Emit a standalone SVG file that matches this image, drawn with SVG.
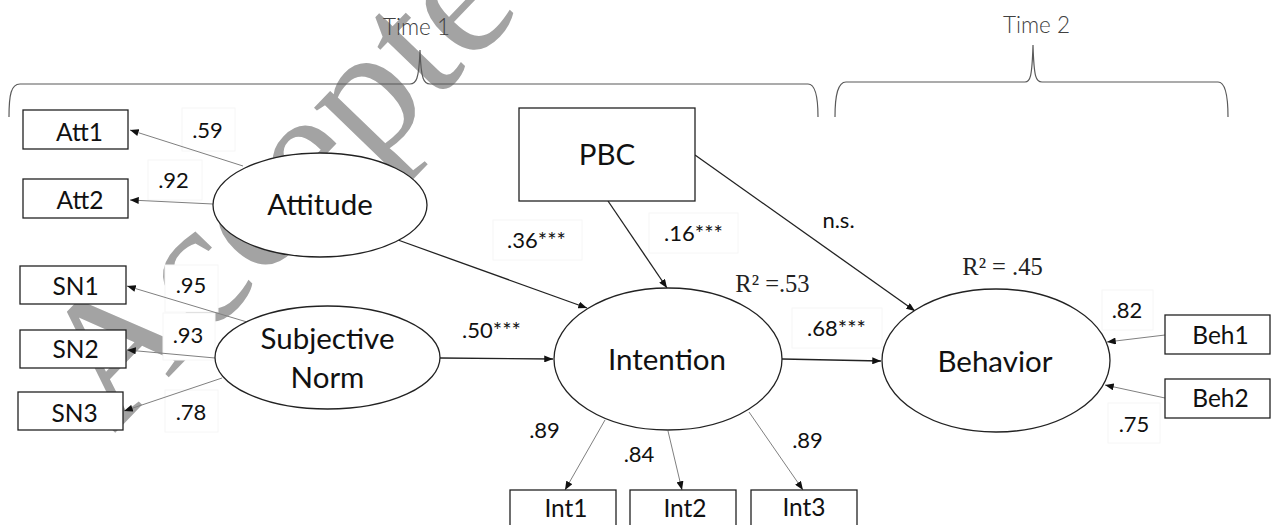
<svg xmlns="http://www.w3.org/2000/svg" width="1271" height="525" viewBox="0 0 1271 525">
<style>
.wm{font-family:"Liberation Serif","Times New Roman",serif;font-size:180px;fill:#a3a3a3}
.box{fill:#fff;stroke:#222;stroke-width:1.3}
.lat{fill:#fff;stroke:#222;stroke-width:1.3}
.lbox{fill:#fff;stroke:#f6f6f6;stroke-width:1}
.t{font-family:Lato,"Liberation Sans",sans-serif;fill:#111;text-anchor:middle}
.ind{font-size:24.5px}
.big{font-size:29.5px}
.num{font-size:22px}
.time{font-family:Lato,"Liberation Sans",sans-serif;font-weight:300;font-size:22.5px;fill:#404040;text-anchor:middle}
.r2{font-family:"Liberation Serif","Times New Roman",serif;font-size:24.5px;fill:#222;text-anchor:middle}
.brace{fill:none;stroke:#595959;stroke-width:1.2}
.m{fill:none;stroke:#808080;stroke-width:1;marker-end:url(#ah)}
.s{fill:none;stroke:#222;stroke-width:1.3;marker-end:url(#ah)}
</style>
<defs>
<marker id="ah" viewBox="0 0 10 8" refX="10" refY="4" markerWidth="9" markerHeight="7" markerUnits="userSpaceOnUse" orient="auto">
<path d="M0,0 L10,4 L0,8 Z" fill="#111"/>
</marker>
</defs>
<rect width="1271" height="525" fill="#fff"/>
<g id="watermark">
<text class="wm" transform="translate(114,434) rotate(-46)">Accepted</text>
</g>
<g id="braces">
<path class="brace" d="M9,117 C9,95 11,84 20,84 L410,84 C416,84 419,80 420,50 C421,80 424,84 430,84 L808,84 C815,84 818,95 818,117"/>
<path class="brace" d="M835,117 C835,95 838,82 846,82 L1025,82 C1030,82 1032,78 1033,45 C1034,78 1036,82 1042,82 L1218,82 C1225,82 1228,95 1228,117"/>
<text class="time" x="416.5" y="35">Time 1</text>
<text class="time" x="1036.5" y="33">Time 2</text>
</g>
<g id="label-boxes">
<rect class="lbox" x="182" y="108" width="53" height="43"/>
<rect class="lbox" x="148" y="160" width="54" height="40"/>
<rect class="lbox" x="165" y="265" width="53" height="47"/>
<rect class="lbox" x="163" y="313" width="52" height="47"/>
<rect class="lbox" x="165" y="390" width="53" height="42"/>
<rect class="lbox" x="493" y="220" width="89" height="40"/>
<rect class="lbox" x="649" y="213" width="89" height="40"/>
<rect class="lbox" x="792" y="308" width="90" height="40"/>
<rect class="lbox" x="1102" y="290" width="51" height="40"/>
<rect class="lbox" x="1108" y="403" width="52" height="40"/>
</g>
<g id="connectors">
<path class="m" d="M243,166 L130,130"/>
<path class="m" d="M213,204 L130,200"/>
<path class="m" d="M247,322 L127,286"/>
<path class="m" d="M215,358 L127,350"/>
<path class="m" d="M222,378 L124,411"/>
<path class="m" d="M605,420 L565,490"/>
<path class="m" d="M668,431 L682,490"/>
<path class="m" d="M749,412 L803,490"/>
<path class="m" d="M1165,335 L1107,342"/>
<path class="m" d="M1165,398 L1105,385"/>
<path class="s" d="M398,240 L587,308"/>
<path class="s" d="M608,201 L667,288"/>
<path class="s" d="M695,155 L915,311"/>
<path class="s" d="M440,358 L553,359"/>
<path class="s" d="M782,359 L881,361"/>
</g>
<g id="att1"><rect class="box" x="23" y="110" width="105" height="39"/><text class="t ind" x="79.5" y="141">Att1</text></g>
<g id="att2"><rect class="box" x="23" y="179" width="105" height="39"/><text class="t ind" x="80" y="209">Att2</text></g>
<g id="sn1"><rect class="box" x="20" y="266" width="106" height="38"/><text class="t ind" x="75.5" y="295">SN1</text></g>
<g id="sn2"><rect class="box" x="20" y="330" width="106" height="38"/><text class="t ind" x="75.5" y="358">SN2</text></g>
<g id="sn3"><rect class="box" x="18" y="392" width="105" height="38"/><text class="t ind" x="74.5" y="422">SN3</text></g>
<g id="attitude"><ellipse class="lat" cx="320" cy="205" rx="107" ry="52"/><text class="t big" x="320" y="215">Attitude</text></g>
<g id="subjective-norm"><ellipse class="lat" cx="327.5" cy="357.5" rx="112.5" ry="51.5"/><text class="t big" x="327.5" y="349">Subjective</text><text class="t big" x="327.5" y="388">Norm</text></g>
<g id="pbc"><rect class="box" x="519" y="108" width="176" height="93"/><text class="t big" x="607" y="165">PBC</text></g>
<g id="intention"><ellipse class="lat" cx="668" cy="359" rx="114" ry="71"/><text class="t big" x="667" y="370">Intention</text></g>
<g id="behavior"><ellipse class="lat" cx="996" cy="360.5" rx="114" ry="71.5"/><text class="t big" x="995" y="372">Behavior</text></g>
<g id="beh1"><rect class="box" x="1165" y="315" width="105" height="39"/><text class="t ind" x="1220.5" y="344">Beh1</text></g>
<g id="beh2"><rect class="box" x="1165" y="379" width="105" height="39"/><text class="t ind" x="1220.5" y="407">Beh2</text></g>
<g id="int1"><rect class="box" x="510" y="490" width="106" height="40"/><text class="t ind" x="566" y="517">Int1</text></g>
<g id="int2"><rect class="box" x="630" y="490" width="106" height="40"/><text class="t ind" x="685" y="517">Int2</text></g>
<g id="int3"><rect class="box" x="751" y="490" width="106" height="40"/><text class="t ind" x="804" y="516">Int3</text></g>
<g id="labels">
<text class="t num" x="207.5" y="138">.59</text>
<text class="t num" x="173.5" y="188">.92</text>
<text class="t num" x="191" y="293">.95</text>
<text class="t num" x="188" y="343">.93</text>
<text class="t num" x="191" y="420">.78</text>
<text class="t num" x="536.5" y="248">.36***</text>
<text class="t num" x="693.5" y="241">.16***</text>
<text class="t num" x="838.5" y="228">n.s.</text>
<text class="t num" x="491.5" y="338">.50***</text>
<text class="t num" x="836.5" y="336">.68***</text>
<text class="t num" x="544.5" y="438">.89</text>
<text class="t num" x="639" y="462">.84</text>
<text class="t num" x="807.5" y="448">.89</text>
<text class="t num" x="1127" y="318">.82</text>
<text class="t num" x="1134" y="432">.75</text>
<text class="r2" x="772.5" y="292">R² =.53</text>
<text class="r2" x="1002.5" y="275">R² = .45</text>
</g>
</svg>
